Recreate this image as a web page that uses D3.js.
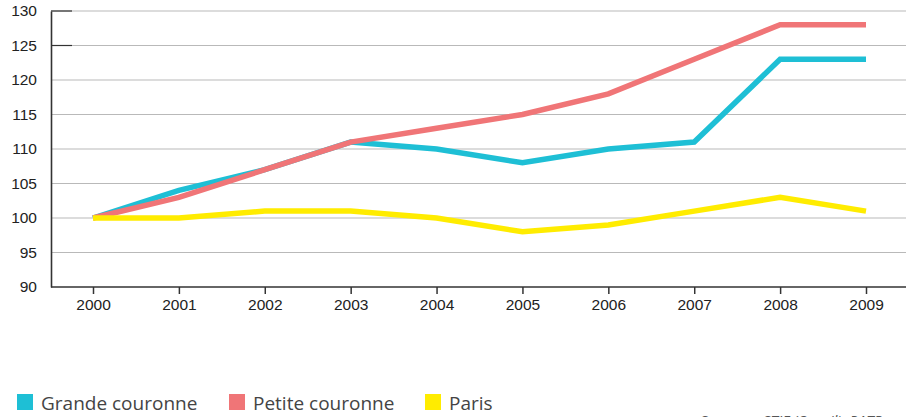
<!DOCTYPE html>
<html><head><meta charset="utf-8">
<script src="https://cdn.jsdelivr.net/npm/d3@7"></script>
<style>html,body{margin:0;padding:0;background:#fff;overflow:hidden}</style>
</head><body>
<svg id="c" width="906" height="417"></svg>
<script>
const years = ["2000","2001","2002","2003","2004","2005","2006","2007","2008","2009"];
const grande = [100,104,107,111,110,108,110,111,123,123];
const petite = [100,103,107,111,113,115,118,123,128,128];
const paris  = [100,100,101,101,100,98,99,101,103,101];
const yTicks = [90,95,100,105,110,115,120,125,130];
const seriesNames = ["Grande couronne","Petite couronne","Paris"];
const seriesColors = ["#1EBFD5","#F07577","#FFEC00"];

(function(){
const svg = d3.select("#c");
const mLeft = 51, mRight = 906, mTop = 11, mBottom = 287;
const x = d3.scalePoint().domain(years).range([93, 866]);
const y = d3.scaleLinear().domain([90,130]).range([mBottom, mTop]);

// gridlines
svg.append("g").selectAll("line").data(yTicks.filter(d=>d>90)).join("line")
  .attr("x1", mLeft).attr("x2", mRight)
  .attr("y1", d=>y(d)).attr("y2", d=>y(d))
  .attr("stroke", "#b9b9b9").attr("stroke-width", 1.2);
// dark stubs at top
svg.append("g").selectAll("line").data([125,130]).join("line")
  .attr("x1", mLeft).attr("x2", 72)
  .attr("y1", d=>y(d)).attr("y2", d=>y(d))
  .attr("stroke", "#333").attr("stroke-width", 1.2);

// y axis
const yAxis = d3.axisLeft(y).tickValues(yTicks).tickSize(0).tickPadding(14);
const gy = svg.append("g").attr("transform", `translate(${mLeft},0)`).call(yAxis);
gy.select(".domain").attr("stroke", "#333").attr("stroke-width", 1.6);
gy.selectAll("text").attr("font-family", "Liberation Sans, Arial, sans-serif")
  .attr("font-size", 15.5).attr("fill", "#222");

// x axis
const xAxis = d3.axisBottom(x).tickSize(7).tickPadding(5);
const gx = svg.append("g").attr("transform", `translate(0,${mBottom})`).call(xAxis);
gx.select(".domain").remove();
gx.append("line").attr("x1", mLeft).attr("x2", mRight).attr("y1", 0).attr("y2", 0)
  .attr("stroke", "#333").attr("stroke-width", 1.6);
gx.selectAll(".tick line").attr("stroke", "#333").attr("stroke-width", 1.5);
gx.selectAll("text").attr("font-family", "Liberation Sans, Arial, sans-serif")
  .attr("font-size", 15.5).attr("fill", "#222");

// lines
const data = [grande, petite, paris];
const line = d3.line().x((d,i)=>x(years[i])).y(d=>y(d));
svg.append("g").selectAll("path").data(data).join("path")
  .attr("d", d=>line(d)).attr("fill", "none")
  .attr("stroke", (d,i)=>seriesColors[i]).attr("stroke-width", 5.5)
  .attr("stroke-linejoin", "miter").attr("stroke-linecap", "butt");

// legend
const legX = [17, 229, 425];
const lg = svg.append("g").selectAll("g").data(seriesNames).join("g")
  .attr("transform", (d,i)=>`translate(${legX[i]},394)`);
lg.append("rect").attr("width", 16).attr("height", 16).attr("fill", (d,i)=>seriesColors[i]);
lg.append("text").attr("x", 24).attr("y", 16).text(d=>d)
  .attr("font-family", "Open Sans, Noto Sans, sans-serif").attr("font-size", 19)
  .attr("fill", "#444");

// source (cut off by the bottom edge, as in the reference)
svg.append("text").attr("x", 700).attr("y", 426)
  .attr("font-family", "Open Sans, Noto Sans, sans-serif").attr("font-size", 15)
  .attr("font-style", "italic").attr("fill", "#555")
  .text("Sources : STIF (Omnil), RATP");
})();
</script>
</body></html>
